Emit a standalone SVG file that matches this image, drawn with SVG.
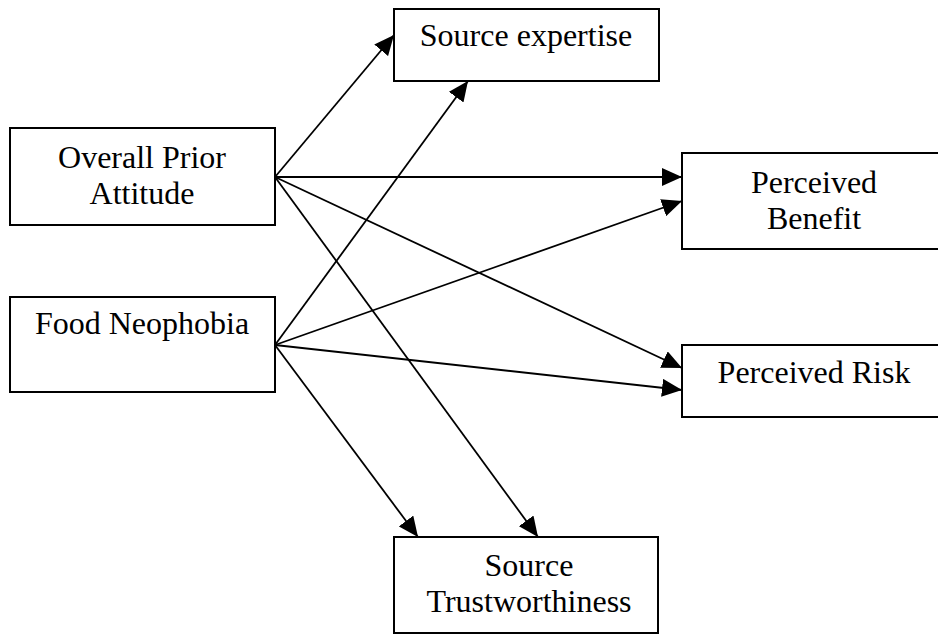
<svg xmlns="http://www.w3.org/2000/svg" width="938" height="635" viewBox="0 0 938 635">
<style>
.box{fill:#fff;stroke:#000;stroke-width:2}
.t{font-family:"Liberation Serif","Times New Roman",serif;font-size:32px;fill:#000;text-anchor:middle}
.c{stroke:#000;stroke-width:1.8;fill:none;marker-end:url(#ah)}
</style>
<defs>
<marker id="ah" markerUnits="userSpaceOnUse" markerWidth="21" markerHeight="18" refX="20" refY="9" orient="auto">
<path d="M0,0 L20,9 L0,18 Z" fill="#000"/>
</marker>
</defs>
<rect width="938" height="635" fill="#fff"/>
<g id="connectors">
<line class="c" x1="275" y1="177" x2="394" y2="35"/>
<line class="c" x1="275" y1="177" x2="682" y2="177"/>
<line class="c" x1="275" y1="177" x2="682" y2="368"/>
<line class="c" x1="275" y1="177" x2="538" y2="537"/>
<line class="c" x1="275" y1="345" x2="468" y2="81"/>
<line class="c" x1="275" y1="345" x2="682" y2="201"/>
<line class="c" x1="275" y1="345" x2="682" y2="390"/>
<line class="c" x1="275" y1="345" x2="418" y2="537"/>
</g>
<g id="overall-prior-attitude">
<rect class="box" x="10" y="128" width="265" height="97"/>
<text class="t" x="142" y="168">Overall Prior</text>
<text class="t" x="142" y="204">Attitude</text>
</g>
<g id="food-neophobia">
<rect class="box" x="10" y="297" width="265" height="95"/>
<text class="t" x="142" y="334">Food Neophobia</text>
</g>
<g id="source-expertise">
<rect class="box" x="394" y="9" width="265" height="72"/>
<text class="t" x="526" y="46">Source expertise</text>
</g>
<g id="perceived-benefit">
<rect class="box" x="682" y="153" width="265" height="96"/>
<text class="t" x="814" y="193">Perceived</text>
<text class="t" x="814" y="229">Benefit</text>
</g>
<g id="perceived-risk">
<rect class="box" x="682" y="345" width="265" height="72"/>
<text class="t" x="814" y="383">Perceived Risk</text>
</g>
<g id="source-trustworthiness">
<rect class="box" x="394" y="537" width="264" height="96"/>
<text class="t" x="529" y="576">Source</text>
<text class="t" x="529" y="612">Trustworthiness</text>
</g>
</svg>
